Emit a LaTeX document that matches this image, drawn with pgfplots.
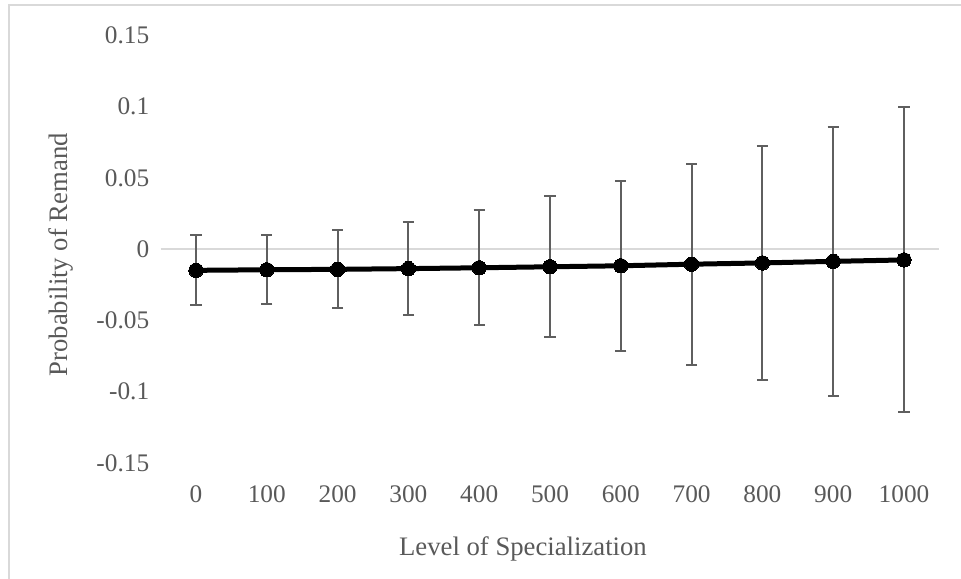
\documentclass[border=0pt]{standalone}
\usepackage{fontspec}
\setmainfont{Liberation Serif}
\usepackage{pgfplots}
\pgfplotsset{compat=1.18}
\usepackage{pgfplotstable}
\definecolor{txt}{HTML}{595959}
\definecolor{bord}{HTML}{D9D9D9}
\definecolor{ebar}{HTML}{5F5F5F}
\pgfplotstableread{
x y e
0 -0.0148 0.0246
1 -0.0144 0.0242
2 -0.0141 0.0273
3 -0.0136 0.0328
4 -0.0130 0.0404
5 -0.0123 0.0494
6 -0.0116 0.0597
7 -0.0105 0.0706
8 -0.0096 0.0822
9 -0.0085 0.0944
10 -0.0075 0.1070
}\data
\begin{document}
\begin{tikzpicture}
\begin{axis}[
  at={(80.3bp,58bp)}, anchor=south west,
  scale only axis, width=389.4bp, height=213.75bp,
  xmin=-0.5, xmax=10.5, ymin=-0.15, ymax=0.15,
  xtick={0,1,2,3,4,5,6,7,8,9,10},
  xticklabels={0,100,200,300,400,500,600,700,800,900,1000},
  ytick={-0.15,-0.1,-0.05,0,0.05,0.1,0.15},
  yticklabels={-0.15,-0.1,-0.05,0,0.05,0.1,0.15},
  extra y ticks={0}, extra y tick labels={},
  extra y tick style={grid=major, major grid style={bord, line width=1bp}},
  axis line style={draw=none},
  major tick length=0pt,
  tick label style={font=\fontsize{12.7}{15}\selectfont, text=txt},
  xticklabel style={anchor=north, inner sep=0pt, yshift=-11.25bp},
  yticklabel style={anchor=east, inner sep=0pt, xshift=-5.5bp},
  xlabel={Level of Specialization},
  ylabel={Probability of Remand},
  label style={font=\fontsize{13.4}{16}\selectfont, text=txt},
  xlabel style={at={(axis description cs:0.4653,-0.2175)}, anchor=base, inner sep=0pt},
  ylabel style={at={(axis description cs:-0.12,0.487)}, anchor=base, inner sep=0pt},
  clip=false,
]
\addplot[black, line width=2.5bp, mark=*, mark size=3.6bp,
  mark options={solid, fill=black, line width=0pt},
  error bars/.cd, y dir=both, y explicit,
  error bar style={line width=1bp, ebar},
  error mark options={rotate=90, mark size=2.8bp, line width=1bp, ebar}]
  table[x=x, y=y, y error=e] {\data};
\end{axis}
\draw[bord, line width=1bp] (4.25bp,0) -- (4.25bp,287.1bp) -- (480.5bp,287.1bp);
\pgfresetboundingbox
\path[use as bounding box] (0,0) rectangle (480.5bp,289.5bp);
\end{tikzpicture}
\end{document}
